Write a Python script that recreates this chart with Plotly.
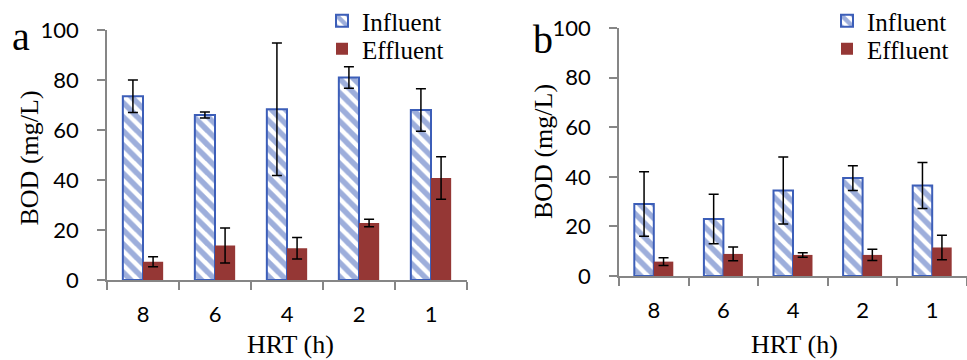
import plotly.graph_objects as go

hrt = ["8", "6", "4", "2", "1"]

# Panel a
inf_a = [73.5, 66.0, 68.3, 81.0, 68.0]
inf_a_err = [6.5, 1.2, 26.5, 4.3, 8.5]
eff_a = [7.3, 13.8, 12.7, 22.8, 40.8]
eff_a_err = [2.0, 7.0, 4.3, 1.5, 8.5]

# Panel b
inf_b = [29.0, 23.0, 34.5, 39.5, 36.5]
inf_b_err = [13.0, 10.0, 13.5, 5.0, 9.3]
eff_b = [5.8, 8.9, 8.5, 8.5, 11.5]
eff_b_err = [1.6, 2.8, 0.9, 2.3, 4.9]

BLUE = "#3C5EB8"
RED = "#953735"
AXIS = "#868686"
SERIF = "Liberation Serif, Times New Roman, serif"
SANS = "Lato, sans-serif"

W, H = 967, 360


def px_x(p):
    return p / W


def px_y(p):
    return 1 - p / H


def influent(x, y, err, xa, ya, leg):
    return go.Bar(
        x=x, y=y, name="Influent", xaxis=xa, yaxis=ya, legend=leg, showlegend=True,
        marker=dict(color="white", line=dict(color=BLUE, width=2),
                    pattern=dict(shape="\\", fgcolor=BLUE, bgcolor="white",
                                 size=10, solidity=0.55)),
        error_y=dict(type="data", array=err, color="black", thickness=1.5, width=5),
    )


def effluent(x, y, err, xa, ya, leg):
    return go.Bar(
        x=x, y=y, name="Effluent", xaxis=xa, yaxis=ya, legend=leg, showlegend=True,
        marker=dict(color=RED, line=dict(width=0)),
        error_y=dict(type="data", array=err, color="black", thickness=1.5, width=5),
    )


fig = go.Figure()
fig.add_trace(influent(hrt, inf_a, inf_a_err, "x", "y", "legend"))
fig.add_trace(effluent(hrt, eff_a, eff_a_err, "x", "y", "legend3"))
fig.add_trace(influent(hrt, inf_b, inf_b_err, "x2", "y2", "legend2"))
fig.add_trace(effluent(hrt, eff_b, eff_b_err, "x2", "y2", "legend4"))

xcommon = dict(type="category", showline=True, linecolor=AXIS, linewidth=1.5,
               ticks="outside", tickson="boundaries", ticklen=8, tickcolor=AXIS,
               tickwidth=1.5, showgrid=False, zeroline=False, automargin=False,
               ticklabelstandoff=14,
               tickfont=dict(family=SANS, size=22, color="black"))
ycommon = dict(range=[0, 100], dtick=20, showline=True, linecolor=AXIS, linewidth=1.5,
               ticks="outside", ticklen=8, tickcolor=AXIS, tickwidth=1.5,
               showgrid=False, zeroline=False, ticklabelstandoff=14, automargin=False,
               tickfont=dict(family=SANS, size=22, color="black"))

LEGFONT = dict(family=SERIF, size=25, color="black")


def leg(xpx, ypx):
    return dict(x=px_x(xpx), y=px_y(ypx), xanchor="left", yanchor="middle",
                font=LEGFONT, bgcolor="rgba(0,0,0,0)", tracegroupgap=0,
                borderwidth=0, visible=True)


def ann(text, xpx, ypx, size, angle=0):
    return dict(text=text, x=px_x(xpx), y=px_y(ypx), xref="paper", yref="paper",
                xanchor="center", yanchor="middle", textangle=angle,
                showarrow=False, font=dict(family=SERIF, size=size, color="black"))


fig.update_layout(
    width=W, height=H,
    showlegend=True,
    margin=dict(l=0, r=0, t=0, b=0, pad=0, autoexpand=False),
    paper_bgcolor="white", plot_bgcolor="white",
    barmode="group", bargap=0.44, bargroupgap=0,
    xaxis=dict(domain=[px_x(107), px_x(467)], anchor="y", **xcommon),
    yaxis=dict(domain=[px_y(280), px_y(30)], anchor="x", **ycommon),
    xaxis2=dict(domain=[px_x(619), 1.0], anchor="y2", **xcommon),
    yaxis2=dict(domain=[px_y(276), px_y(28)], anchor="x2", **ycommon),
    legend=leg(322, 21),
    legend3=leg(322, 49),
    legend2=leg(827, 21),
    legend4=leg(827, 49),
    annotations=[
        ann("a", 21, 36.5, 40),
        ann("b", 542.5, 39.5, 40),
        ann("BOD (mg/L)", 29, 158.5, 26, -90),
        ann("BOD (mg/L)", 543, 152, 26, -90),
        ann("HRT (h)", 290, 344, 26),
        ann("HRT (h)", 794, 344, 26),
    ],
)

fig.write_html("out.html")
